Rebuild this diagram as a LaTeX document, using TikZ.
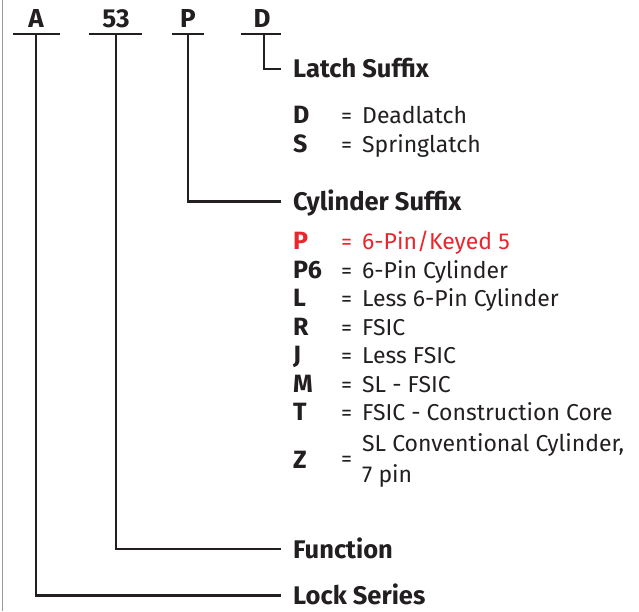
\documentclass[tikz,border=0pt]{standalone}
\usepackage{fontspec}
\setmainfont{Fira Sans}
\definecolor{ink}{HTML}{231F20}
\definecolor{redc}{HTML}{E8262C}
\begin{document}
\begin{tikzpicture}[x=1pt,y=-1pt,
  code/.style={font=\fontsize{26}{26}\selectfont\bfseries, text=ink, anchor=base, inner sep=0pt},
  head/.style={font=\fontsize{25.5}{26}\selectfont\bfseries, text=ink, anchor=base west, inner sep=0pt},
  key/.style={font=\fontsize{25}{25}\selectfont\bfseries, text=ink, anchor=base west, inner sep=0pt},
  eq/.style={font=\fontsize{22}{22}\selectfont, text=ink, anchor=base west, inner sep=0pt},
  desc/.style={font=\fontsize{23}{23}\selectfont, text=ink, anchor=base west, inner sep=0pt},
  lead/.style={draw=ink, line width=2.4pt, line cap=butt},
  under/.style={draw=ink, line width=2.6pt}
]
\useasboundingbox (0,0) rectangle (639,611);
\draw[gray!80, line width=1pt] (2,0) -- (2,611);

% top codes
\node[code] (cA) at (36,27) {A};
\node[code] (c53) at (116,27) {53};
\node[code] (cP) at (188,27) {P};
\node[code] (cD) at (262,27) {D};
\coordinate (uA1) at (13,34); \coordinate (uA2) at (60,34);
\coordinate (u531) at (89,34); \coordinate (u532) at (142,34);
\coordinate (uP1) at (172,34); \coordinate (uP2) at (204,34);
\coordinate (uD1) at (241,34); \coordinate (uD2) at (281,34);
\draw[under] (uA1) -- (uA2);
\draw[under] (u531) -- (u532);
\draw[under] (uP1) -- (uP2);
\draw[under] (uD1) -- (uD2);
\coordinate (tA) at (36,34);
\coordinate (t53) at (116,34);
\coordinate (tP) at (188,34);
\coordinate (tD) at (264,34);

% headings
\node[head] (hLatch) at (293,77.5) {Latch Suffix};
\node[head] (hCyl) at (293,210) {Cylinder Suffix};
\node[head] (hFun) at (293,558) {Function};
\node[head] (hLock) at (293,604) {Lock Series};

\coordinate (eLatch) at (281,69);
\coordinate (eCyl) at (281,201.5);
\coordinate (eFun) at (281,549);
\coordinate (eLock) at (281,595.5);

\draw[lead] (tD) |- (eLatch);
\draw[lead] (tP) |- (eCyl);
\draw[lead] (t53) |- (eFun);
\draw[lead] (tA) |- (eLock);

% latch entries
\node[key] (kD) at (293,123) {D};
\node[eq] (qD) at (341,123) {=};
\node[desc] (dD) at (362,123) {Deadlatch};
\node[key] (kS) at (293,152) {S};
\node[eq] (qS) at (341,152) {=};
\node[desc] (dS) at (362,152) {Springlatch};

% cylinder entries
\node[key, text=redc] (kP) at (293,249) {P};
\node[eq, text=redc] (qP) at (341,249) {=};
\node[desc, text=redc] (dP) at (362,249) {6-Pin/Keyed 5};
\node[key] (kP6) at (293,278) {P6};
\node[eq] (qP6) at (341,278) {=};
\node[desc] (dP6) at (362,278) {6-Pin Cylinder};
\node[key] (kL) at (293,306.5) {L};
\node[eq] (qL) at (341,306.5) {=};
\node[desc] (dL) at (362,306.5) {Less 6-Pin Cylinder};
\node[key] (kR) at (293,335) {R};
\node[eq] (qR) at (341,335) {=};
\node[desc] (dR) at (362,335) {FSIC};
\node[key] (kJ) at (293,363.5) {J};
\node[eq] (qJ) at (341,363.5) {=};
\node[desc] (dJ) at (362,363.5) {Less FSIC};
\node[key] (kM) at (293,392) {M};
\node[eq] (qM) at (341,392) {=};
\node[desc] (dM) at (362,392) {SL - FSIC};
\node[key] (kT) at (293,420.5) {T};
\node[eq] (qT) at (341,420.5) {=};
\node[desc] (dT) at (362,420.5) {FSIC - Construction Core};
\node[key] (kZ) at (293,468) {Z};
\node[eq] (qZ) at (341,466) {=};
\node[desc] (dZ1) at (362,451) {SL Conventional Cylinder,};
\node[desc] (dZ2) at (362,482) {7 pin};
\end{tikzpicture}
\end{document}
